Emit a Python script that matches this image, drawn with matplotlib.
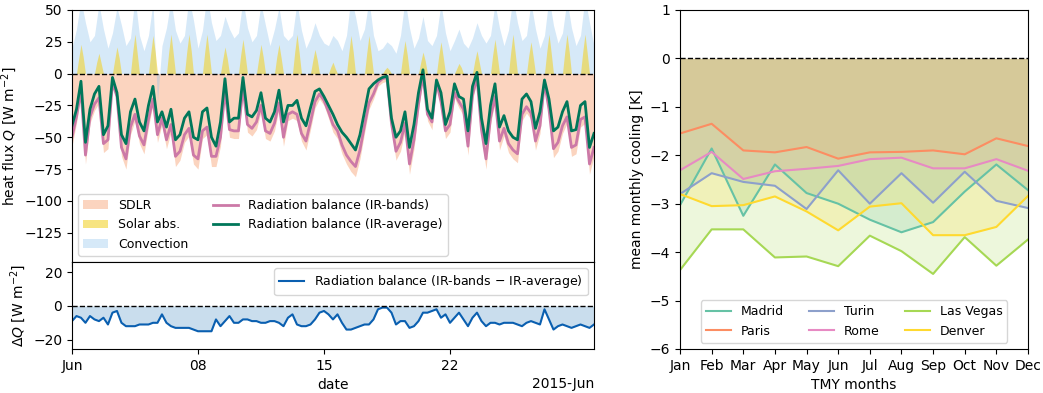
import matplotlib
matplotlib.use('Agg')
import matplotlib.pyplot as plt
import matplotlib.dates as mdates
import numpy as np
import pandas as pd

# --- left: June 2015 heat flux, 6-hourly readings -------------------------
start = '2015-06-01'

# radiation balance, IR-average [W m-2]
ir_average = [
    -41, -28, -6, -54, -28, -16, -10, -48, -41, -3, -15, -48,
    -55, -30, -20, -38, -45, -25, -10, -38, -30, -42, -28, -52,
    -48, -35, -30, -50, -52, -30, -27, -50, -57, -38, -4, -38,
    -35, -35, -3, -32, -34, -29, -15, -35, -38, -30, -13, -38,
    -25, -25, -21, -35, -41, -27, -14, -12, -18, -25, -32, -40,
    -46, -50, -55, -60, -48, -30, -12, -8, -5, -3, -2, -35,
    -50, -45, -30, -58, -40, -15, 3, -28, -35, -5, -15, -40,
    -30, -8, -18, -20, -45, -10, 1, -35, -55, -25, -8, -42,
    -33, -45, -50, -52, -20, -16, -22, -43, -30, -5, -20, -45,
    -42, -30, -22, -45, -44, -25, -22, -58, -47,
]

# IR-bands minus IR-average [W m-2]
delta_q = [
    -9, -6, -7, -10, -6, -8, -9, -7, -11, -4, -3, -10,
    -12, -12, -12, -11, -11, -11, -10, -10, -5, -10, -12, -13,
    -13, -13, -13, -14, -15, -15, -15, -15, -8, -12, -9, -6,
    -10, -10, -8, -8, -9, -9, -10, -10, -9, -9, -10, -12,
    -7, -5, -11, -12, -12, -11, -8, -4, -3, -5, -8, -5,
    -10, -14, -14, -13, -12, -11, -11, -8, -2, -1, -1, -4,
    -11, -9, -9, -13, -12, -9, -4, -4, -3, -2, -7, -5,
    -10, -7, -4, -8, -12, -7, -4, -9, -12, -10, -10, -11,
    -10, -10, -10, -11, -12, -10, -9, -10, -11, -2, -8, -14,
    -12, -11, -12, -13, -12, -11, -12, -13, -11,
]

# lower edge of the SDLR band [W m-2]
sdlr = [
    -57, -39, -17, -71, -39, -29, -23, -62, -59, -10, -22, -65,
    -75, -48, -37, -55, -63, -42, -24, -54, -40, -59, -46, -73,
    -68, -54, -49, -71, -75, -51, -48, -73, -73, -57, -17, -50,
    -51, -51, -15, -46, -49, -44, -30, -51, -53, -45, -28, -57,
    -37, -35, -37, -53, -60, -44, -27, -20, -25, -35, -46, -51,
    -63, -71, -77, -81, -67, -47, -28, -20, -10, -7, -6, -45,
    -68, -61, -45, -79, -59, -29, -4, -37, -44, -10, -27, -51,
    -46, -19, -27, -33, -64, -21, -6, -50, -75, -40, -22, -60,
    -49, -62, -67, -70, -37, -31, -36, -60, -47, -10, -33, -66,
    -61, -47, -39, -65, -63, -42, -39, -79, -65,
]

# convection [W m-2]
convection = [
    20, 35, 58, 40, 25, 30, 55, 35, 20, 32, 52, 38,
    22, 28, 60, 30, 18, 30, 56, -22, 22, 36, 58, 34,
    24, 30, 60, 42, 20, 34, 62, 40, 26, 30, 45, 35,
    28, 32, 58, 36, 25, 30, 55, 38, 22, 35, 52, 30,
    26, 30, 56, 34, 20, 28, 40, 30, 24, 22, 30, 26,
    18, 30, 60, 45, 26, 35, 58, 30, 18, 20, 25, 22,
    16, 30, 58, 36, 20, 28, 45, 26, 22, 30, 55, 32,
    18, 26, 35, 24, 20, 28, 40, 30, 24, 30, 55, 36,
    22, 34, 60, 40, 26, 30, 56, 35, 20, 30, 60, 38,
    24, 32, 58, 36, 22, 30, 60, 40, 22,
]

# solar absorption per day at 09h, 12h, 15h [W m-2]
solar_09h = [12, 9, 11, 17, 16, 17, 17, 17, 11, 15, 12, 13, 17, 10, 5,
             16, 16, 3, 14, 9, 14, 4, 10, 15, 17, 14, 17, 17, 17]
solar_12h = [23, 16, 21, 31, 30, 31, 31, 31, 21, 27, 23, 23, 31, 19, 9,
             30, 30, 5, 26, 17, 25, 8, 18, 27, 31, 25, 31, 31, 31]
solar_15h = [13, 8, 12, 16, 17, 16, 18, 16, 12, 14, 13, 12, 16, 11, 4,
             17, 15, 3, 15, 10, 13, 5, 9, 14, 16, 13, 16, 17, 16]

times = pd.date_range(start, periods=len(ir_average), freq='6h')
ir_average = np.array(ir_average, dtype=float)
delta_q = np.array(delta_q, dtype=float)
ir_bands = ir_average + delta_q

times_solar = pd.date_range(start, periods=len(solar_12h) * 8 + 1, freq='3h')
solar = np.zeros(len(times_solar))
solar[3::8] = solar_09h
solar[4::8] = solar_12h
solar[5::8] = solar_15h

# --- right: monthly cooling per city ----------------------------------------
months = ['Jan', 'Feb', 'Mar', 'Apr', 'May', 'Jun',
          'Jul', 'Aug', 'Sep', 'Oct', 'Nov', 'Dec']
madrid = [-3.03, -1.86, -3.25, -2.19, -2.78, -3.0, -3.33, -3.59, -3.38, -2.75, -2.19, -2.72]
paris = [-1.55, -1.35, -1.9, -1.94, -1.83, -2.07, -1.94, -1.93, -1.9, -1.98, -1.65, -1.81]
turin = [-2.8, -2.37, -2.55, -2.63, -3.11, -2.31, -3.0, -2.37, -2.98, -2.34, -2.94, -3.09]
rome = [-2.31, -1.93, -2.49, -2.33, -2.28, -2.22, -2.08, -2.05, -2.27, -2.27, -2.08, -2.32]
las_vegas = [-4.37, -3.53, -3.53, -4.11, -4.09, -4.29, -3.66, -3.98, -4.45, -3.69, -4.28, -3.74]
denver = [-2.8, -3.05, -3.03, -2.85, -3.16, -3.55, -3.06, -2.99, -3.65, -3.65, -3.48, -2.84]

cities = ['Madrid', 'Paris', 'Turin', 'Rome', 'Las Vegas', 'Denver']
city_values = [madrid, paris, turin, rome, las_vegas, denver]
city_colors = ['#66c2a5', '#fc8d62', '#8da0cb', '#e78ac3', '#a6d854', '#ffd92f']

# --- figure -----------------------------------------------------------------
fig = plt.figure(figsize=(10.43, 3.93), dpi=100)
gs = fig.add_gridspec(2, 1, height_ratios=[252, 87], hspace=0,
                      left=0.069, right=0.5695, top=0.9746, bottom=0.112)
ax1 = fig.add_subplot(gs[0])
ax2 = fig.add_subplot(gs[1], sharex=ax1)
ax3 = fig.add_axes([0.652, 0.112, 0.9856 - 0.652, 0.9746 - 0.112])

# convection underneath, solar on top of it
h_sdlr = ax1.fill_between(times, 0, sdlr, color='#f7a072', alpha=0.45, lw=0, label='SDLR')
h_conv = ax1.fill_between(times, 0, convection, color='#8cc0ec', alpha=0.35, lw=0, label='Convection')
h_solar = ax1.fill_between(times_solar, 0, solar, color='#f2d22e', alpha=0.6, lw=0, label='Solar abs.')
l_bands, = ax1.plot(times, ir_bands, color='#cc79a7', lw=2, label='Radiation balance (IR-bands)')
l_avg, = ax1.plot(times, ir_average, color='#00775a', lw=2, label='Radiation balance (IR-average)')
ax1.axhline(0, color='k', ls='--', lw=1)
ax1.set_ylim(-148, 50)
ax1.set_ylabel('heat flux $Q$ [W m$^{-2}$]')
ax1.legend(handles=[h_sdlr, h_solar, h_conv, l_bands, l_avg], ncol=2,
           loc='lower left', fontsize=9)
ax1.tick_params(labelbottom=False)

ax2.fill_between(times, 0, delta_q, color='#2b7bba', alpha=0.25, lw=0)
ax2.plot(times, delta_q, color='#0a5fb0', lw=1.5, label='Radiation balance (IR-bands $-$ IR-average)')
ax2.axhline(0, color='k', ls='--', lw=1)
ax2.set_ylim(-25.5, 26)
ax2.set_yticks([-20, 0, 20])
ax2.set_ylabel('$\\Delta Q$ [W m$^{-2}$]')
ax2.set_xlabel('date')
ax2.legend(loc='upper right', fontsize=9)
ax2.set_xlim(times[0], times[-1])
locator = mdates.DayLocator(bymonthday=[1, 8, 15, 22])
ax2.xaxis.set_major_locator(locator)
ax2.xaxis.set_major_formatter(mdates.ConciseDateFormatter(locator))

x = np.arange(len(months))
for name, vals, col in zip(cities, city_values, city_colors):
    ax3.fill_between(x, 0, vals, color=col, alpha=0.2, lw=0)
    ax3.plot(x, vals, color=col, lw=1.5, label=name)
ax3.axhline(0, color='k', ls='--', lw=1)
ax3.set_xlim(0, 11)
ax3.set_ylim(-6, 1)
ax3.set_xticks(x)
ax3.set_xticklabels(months)
ax3.set_ylabel('mean monthly cooling [K]')
ax3.set_xlabel('TMY months')
ax3.legend(ncol=3, loc='lower center', fontsize=9)

plt.savefig('out.png', dpi=100)
